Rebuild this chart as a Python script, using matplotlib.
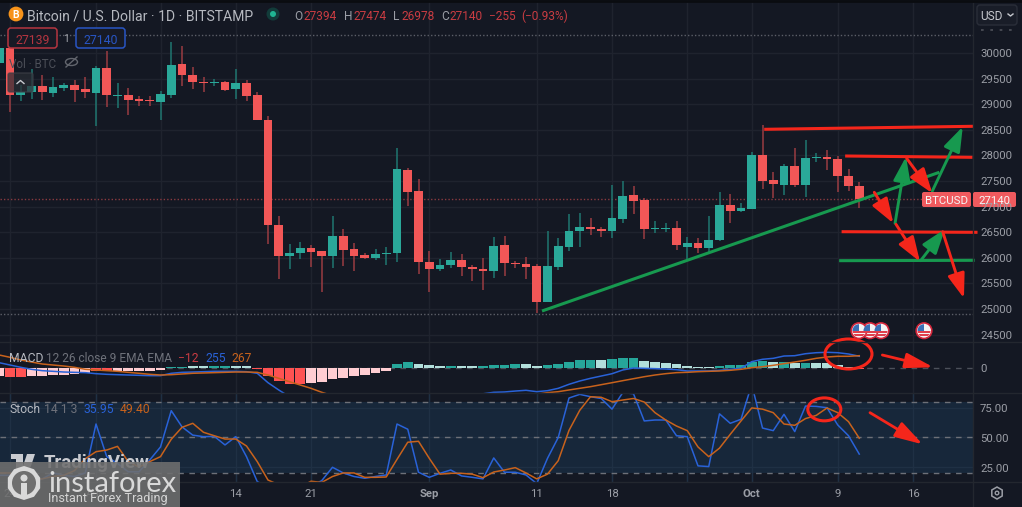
import numpy as np
import matplotlib
matplotlib.use("Agg")
import matplotlib.pyplot as plt
from matplotlib.patches import Circle, Ellipse, FancyBboxPatch, Rectangle, RegularPolygon, Polygon

# ---- data ---- (day index 0 = 24 Jul)
days = list(range(-1, 80))
opens = [29800,30098,29180,29232,29355,29225,29316,29369,29291,29225,29713,29166,29186,29096,29076,29049,29186,29791,29576,29439,
         29408,29428,29291,29414,29174,28697,26635,26041,26088,26192,26127,26035,26426,26166,26055,25990,26074,26094,27715,27305,
         25924,25787,25865,25963,25815,25775,25736,26256,25905,25885,25834,25137,25826,26211,26524,26602,26569,26524,26752,27227,
         27135,26557,26563,26576,26211,26295,26192,26348,27026,26908,26959,28002,27514,27428,27787,27416,27949,27975,27930,27592,27394]
highs = [30090,30098,29375,29687,29576,29531,29408,29467,29531,29752,30045,29408,29310,29160,29160,29258,30221,30137,29721,29537,
         29486,29453,29682,29473,29232,28764,26817,26270,26303,26250,26127,26817,26568,26283,26100,26166,26217,28139,27760,27539,
         26139,25971,26108,26074,25860,25990,26412,26432,25938,26016,25873,26529,26393,26856,26881,26772,26608,27422,27494,27397,
         27174,26725,26674,26725,26412,26381,26817,27291,27240,27076,28061,28594,27670,27832,28139,28301,28041,28106,27994,27734,27474]
lows = [29800,28848,29068,29102,29082,29135,29264,29049,29127,28574,28939,28932,28789,28965,28965,28691,29115,29355,29297,29232,
        29355,29264,29096,29068,28691,26270,25592,25787,25971,25826,25338,25795,25840,25748,25977,25957,25854,25912,27012,25678,
        25332,25748,25801,25645,25547,25371,25600,25645,25795,25580,24916,25137,25762,26139,26217,26445,26412,26381,26686,26856,
        26373,26479,26510,26153,25971,26088,26119,26328,26686,26900,26959,27338,27162,27227,27377,27182,27877,27715,27291,27305,26978]
closes = [30090,29180,29238,29355,29232,29330,29369,29277,29238,29713,29174,29186,29082,29062,29062,29193,29771,29564,29428,29408,
          29434,29283,29414,29166,28697,26635,26041,26088,26192,26119,26035,26432,26153,26035,25990,26074,26100,27729,27291,25924,
          25787,25865,25963,25815,25775,25736,26237,25893,25885,25826,25137,25840,26225,26529,26602,26563,26524,26772,27213,27115,
          26557,26582,26582,26244,26295,26198,26348,27026,26908,26967,28002,27506,27436,27793,27416,27949,27975,27930,27592,27397,27140]

n = float("nan")
macd_line = [115,65,15,-28,-58,-72,-87,-94,-101,-123,-137,-145,-152,-159,-166,-166,-115,-94,-87,-80,
             -72,-72,-72,-80,-115,-319,-477,-623,n,n,n,n,n,n,n,n,n,n,n,n,
             n,n,n,n,n,-560,-527,-520,-500,-484,-514,-492,-441,-354,-282,-224,-174,-124,-43,0,
             -7,-14,-22,-36,-65,-65,-65,-50,-28,-7,137,189,210,260,267,310,332,341,332,304,255]
macd_signal = [282,232,174,130,87,65,43,15,-28,-43,-58,-72,-94,-115,-137,-152,-145,-130,-115,-108,
               -101,-94,-87,-87,-94,-152,-224,-297,-369,-441,-527,-600,n,n,n,n,n,n,n,n,
               n,n,n,n,n,n,n,n,n,n,-570,-535,-514,-477,-441,-405,-362,-319,-275,-232,
               -189,-152,-123,-101,-94,-80,-72,-65,-50,-28,7,28,58,94,130,167,210,239,254,254,267]
macd_hist = [-166,-188,-188,-174,-174,-159,-145,-130,-116,-72,-72,-65,-65,-65,-58,-43,29,29,36,36,
             36,36,36,36,-29,-174,-289,-347,-347,-333,-311,-246,-210,-174,-145,-101,-58,80,137,94,
             58,51,51,43,43,43,72,72,87,87,43,58,94,137,166,181,181,188,210,210,
             159,137,116,87,36,14,14,43,58,72,130,145,123,123,108,116,116,101,65,22,-12]
hist_kind = list("PRRPPPPPPRRPPPPPGGLLGGLLR"
                 "RRRRPPPPPPPPGGL"
                 "LLGLLGGGGLLGGGGGLGGG"
                 "LLLLLLLGGGGGLGLGLLLLR")
stoch_k = [18,18,15,12,15,20,18,17,20,61.4,33.8,28,21,21,31,42,72.7,59,52,50.7,
           51,43.7,50.7,33.8,12.7,8,6,8,10,9,13.5,24.8,20,17,15.5,17,18.3,61.4,57,20.6,
           16.3,19.7,22.5,17.5,16.3,15,32.7,20.6,20.6,18.3,11,32.4,50,83.4,86.5,84.5,83,74,88,87,
           64,64.8,64.8,51.5,50.7,26,25.4,70,62,65.4,95,58,55.8,69.6,55,76.6,76.3,75.2,60.6,51.5,35.95]
stoch_d = [20,20,16,14,15,17,18,22,32,38,39.4,42.5,29.6,25,29.6,33.8,48.5,58.6,62,54.4,
           51.5,48.7,48.7,42.8,29.6,14,10,8,8,13,12,17,20,20,16.3,16.3,16.6,31.5,46,46.8,
           32.4,19,19.7,19.7,19,16,20.8,22.5,24.5,20,15,19,30.4,56,73,84.5,84,80.3,81.7,83,
           80,71,64.8,59.7,55.8,42,33.8,41,52.7,64,75,74,71,61.4,60.3,66,68.7,75,71,63.4,49.4]

price_ticks = [30000,29500,29000,28500,28000,27500,27000,26500,26000,25500,25000,24500]
date_ticks = [0,8,14,21,28,39,49,56,63,69,77,84]
date_labels = [("24",0,False),("Aug",8,False),("14",21,False),("21",28,False),("Sep",39,True),
               ("11",49,False),("18",56,False),("Oct",69,True),("9",77,False),("16",84,False)]
stoch_ticks = [75,50,25]

high_level, last_level, low_level = 30350, 27140, 24900

# hand-drawn trend line, levels and arrows: (day, value)
trend = [(49.49,24961),(86.45,27670)]
red_levels = [[(70.3,28510),(89.46,28568)],[(77.83,27988),(89.39,27963)],[(77.5,26510),(89.86,26498)]]
green_levels = [[(77.27,25944),(89.6,25951)]]
green_arrows = [[(82.33,26674),(83.35,27975)],[(85.8,27305),(88.63,28561)],[(84.71,25944),(86.98,26563)]]
red_arrows = [[(83.41,27943),(85.8,27260)],[(80.4,27279),(82.17,26674)],[(82.42,26654),(84.65,25924)],[(86.76,26510),(88.74,25209)]]
macd_arrow = [(81.15,282),(85.9,15)]
stoch_arrow = [(80,71),(84.9,44.2)]

# ---- style ----
W, H = 1022, 507
BG, GRID, TXT = "#141823", "#1f232e", "#9b9ea6"
UP, DOWN = "#2aa899", "#f25757"
UPW, DOWNW = "#1f7670", "#9a3c42"
RED, GREEN = "#f5261b", "#17994f"
BLUE, ORANGE = "#2962d8", "#c8621c"
plt.rcParams["font.family"] = ["Roboto", "DejaVu Sans"]

fig = plt.figure(figsize=(W/100, H/100), dpi=100, facecolor=BG)
RIGHT = 973
XLIM = ((0-10)/10.75, (RIGHT-10)/10.75)

def pane(top, bottom, ylim):
    ax = fig.add_axes([0, 1-bottom/H, RIGHT/W, (bottom-top)/H], facecolor=BG)
    ax.set_xlim(*XLIM)
    ax.set_ylim(*ylim)
    ax.set_xticks([]); ax.set_yticks([])
    for s in ax.spines.values():
        s.set_visible(False)
    for d in date_ticks:
        ax.axvline(d, color=GRID, lw=1, zorder=0)
    return ax

def arrow(ax, pts, color, hl=15, hw=5.2, lw=2.1):
    ax.annotate("", xy=pts[1], xytext=pts[0], annotation_clip=False, zorder=8,
                arrowprops=dict(arrowstyle=f"-|>,head_length={hl},head_width={hw}", mutation_scale=1,
                                color=color, lw=lw, shrinkA=0, shrinkB=0))

# price pane
ax = pane(0, 342, (31035-19.53*342, 31035))
for p in price_ticks:
    ax.axhline(p, color=GRID, lw=1, zorder=0)
ax.axhline(high_level, color="#5c5f68", lw=1, ls=(0,(1,1.5)), zorder=1)
ax.axhline(low_level, color="#5c5f68", lw=1, ls=(0,(1,1.5)), zorder=1)
ax.axhline(last_level, color="#8a3a40", lw=1, ls=(0,(1,1.5)), zorder=1)
for d,o,h,l,c in zip(days,opens,highs,lows,closes):
    up = c >= o
    ax.vlines(d, l, h, color=UPW if up else DOWNW, lw=1.1, zorder=2)
    b, t = min(o,c), max(o,c)
    ax.bar(d, max(t-b,22), bottom=b, width=0.8, color=UP if up else DOWN, zorder=3, lw=0)
ax.plot(*zip(*trend), color=GREEN, lw=2.2, zorder=7, solid_capstyle="butt", clip_on=False)
for seg in red_levels:
    ax.plot(*zip(*seg), color=RED, lw=2.2, zorder=7, clip_on=False)
for seg in green_levels:
    ax.plot(*zip(*seg), color=GREEN, lw=2.2, zorder=7, clip_on=False)
for a in green_arrows:
    arrow(ax, a, GREEN)
for a in red_arrows:
    arrow(ax, a, RED)

# MACD pane
mx = pane(342, 392.7, ((368-392.7)*21.7, (368-342)*21.7))
mx.axhline(0, color="#4c505a", lw=1, ls=(0,(4,4)), zorder=1)
kind_col = {"R":"#ff5252","P":"#ffcdd2","G":"#26a69a","L":"#b2dfdb"}
mx.bar(days, macd_hist, width=0.92, color=[kind_col[k] for k in hist_kind], lw=0, zorder=2)
mx.plot(days, macd_line, color=BLUE, lw=1.1, zorder=3)
mx.plot(days, macd_signal, color=ORANGE, lw=1.1, zorder=3)
arrow(mx, macd_arrow, RED, hl=17, hw=4.6, lw=2)
mx.add_patch(Ellipse((82.0-1.9+(-2.9)+0.8, 304), 4.37, 651, fill=False, ec=RED, lw=2.2, clip_on=False, zorder=9))

# Stochastic pane
sx = pane(392.7, 481.7, (12.6, 87.9))
sx.axhspan(20, 80, color="#17273a", lw=0, zorder=0)
for d in date_ticks:
    sx.axvline(d, color="#1f3044", lw=1, zorder=0.5)
for t in stoch_ticks:
    sx.axhline(t, color="#1f3044", lw=1, zorder=0.5)
for lev in (80,50,20):
    sx.axhline(lev, color="#6d7078", lw=1, ls=(0,(4,4)), zorder=1)
sx.plot(days, stoch_k, color=BLUE, lw=1.1, zorder=3)
sx.plot(days, stoch_d, color=ORANGE, lw=1.1, zorder=3)
arrow(sx, stoch_arrow, RED, hl=17, hw=5, lw=2)
sx.add_patch(Ellipse((75.75, 73.8), 3.07, 19.4, fill=False, ec=RED, lw=2.2, clip_on=False, zorder=9))

# overlay in pixels
ov = fig.add_axes([0,0,1,1], facecolor="none", zorder=10)
ov.set_xlim(0,W); ov.set_ylim(H,0); ov.axis("off")
def T(x,y,s,c=TXT,fs=8.2,ha="left",**k):
    return ov.text(x,y,s,color=c,fontsize=fs,ha=ha,va="center_baseline",**k)
def box(x0,y0,x1,y1,fc="none",ec="none",lw=1,r=2,alpha=None,z=2):
    ov.add_patch(FancyBboxPatch((x0+r,y0+r),x1-x0-2*r,y1-y0-2*r,boxstyle=f"round,pad={r}",fc=fc,ec=ec,lw=lw,alpha=alpha,zorder=z))

for y in (342,392.7,481.7):
    ov.plot([0,W],[y,y],color="#23272f",lw=1,zorder=1)
ov.plot([RIGHT,RIGHT],[0,H],color="#23272f",lw=1,zorder=1)
ov.plot([0,W],[0.5,0.5],color="#0a0c10",lw=2,zorder=1)

# price axis
for p in price_ticks:
    T(980, 53+(30000-p)*0.0512, str(p))
T(980,368,"0")
T(980,408,"75.00"); T(980,438,"50.00"); T(980,467.5,"25.00")
box(922,192,971,207,fc="#ef5a5e"); T(946.5,199.5,"BTCUSD","#f6f6f6",ha="center")
box(973,192,1016,207,fc="#ef5a5e"); T(994.5,199.5,"27140","#f6f6f6",ha="center")
box(977,5,1017,25,fc="#191d28",ec="#2a2e39",r=3); T(980,15.5,"USD","#c6c8ce",fs=8.6)
ov.plot([1008,1010.5,1013],[14,16,14],color="#c6c8ce",lw=1)
ov.plot([981,1012],[30,30],color="#4e515a",lw=1.2,ls=(0,(1.6,4)))

# dates
for s,d,bold in date_labels:
    T(10+10.75*d,493,s,fs=8.2,ha="center",fontweight="bold" if bold else "normal")
ov.add_patch(RegularPolygon((997,493),6,radius=6,fill=False,ec="#9b9ea6",lw=1.1))
ov.add_patch(Circle((997,493),1.8,fill=False,ec="#9b9ea6",lw=1))

# header
ov.add_patch(Circle((16,14),7.4,fc="#f7931a",lw=0))
T(16,14.3,"B","#fff",fs=7.5,ha="center",fontweight="bold")
T(27,15,"Bitcoin / U.S. Dollar · 1D · BITSTAMP","#b6b9c0",fs=10.1)
ov.add_patch(Circle((273,14),6.5,fc="#123c3a",lw=0)); ov.add_patch(Circle((273,14),3,fc="#1fb592",lw=0))
HR = "#c93c42"
for x,s,c in [(294,"O",TXT),(304,"27394",HR),(344,"H",TXT),(353,"27474",HR),(393,"L",TXT),(401,"26978",HR),
              (441,"C",TXT),(449,"27140",HR),(489,"−255",HR),(521,"(−0.93%)",HR)]:
    T(x,15,s,c,fs=8.6)
box(8,28,57,48,fc="#171a25",ec="#b53540",lw=1.1,r=3); T(32.5,38.5,"27139","#b53540",fs=8.8,ha="center")
T(66,38.5,"1","#a6a8af",fs=7.5,ha="center")
box(76,28,125,48,fc="#171a25",ec="#2855c4",lw=1.1,r=3); T(100.5,38.5,"27140","#2855c4",fs=8.8,ha="center")
T(9,62.5,"Vol · BTC","#4c4f58",fs=8.4)
ov.add_patch(Ellipse((71.5,62),12,7,fill=False,ec="#62656d",lw=1))
ov.plot([66,77],[67,57],color="#62656d",lw=1)
box(8,73,33,92,fc="#2a2d35",ec="#3e4048",alpha=0.72,r=2,z=3)
ov.plot([17,20.5,24],[83.5,80.5,83.5],color="#c6c8ce",lw=1,zorder=4)

# pane legends
T(9,357,"MACD","#b6b9c0",fs=8.7)
T(46,357,"12 26 close 9 EMA EMA","#6e717a",fs=8.6)
T(178,357,"−12","#c93c42",fs=8.7); T(205,357,"255",BLUE,fs=8.7); T(231,357,"267",ORANGE,fs=8.7)
T(9,408,"Stoch","#b6b9c0",fs=8.7)
T(44,408,"14 1 3","#6e717a",fs=8.7)
T(84,408,"35.95",BLUE,fs=8.7); T(120,408,"49.40",ORANGE,fs=8.7)

# event flags
for x in (924,881,870,859):
    ring = Circle((x,330.7),7.8,fc="#f4f4f4",ec="#d3253a",lw=1.2,zorder=5); ov.add_patch(ring)
    inner = Circle((x,330.7),6.5,transform=ov.transData)
    for k,yy in enumerate((331,334.2)):
        r = Rectangle((x-8,yy),16,1.6,fc="#e0404c",lw=0,zorder=6); ov.add_patch(r); r.set_clip_path(inner)
    r = Rectangle((x-8,323),8,8,fc="#3a6fb5",lw=0,zorder=6); ov.add_patch(r); r.set_clip_path(inner)

# watermarks
T(44,461,"TradingView","#c9cbd0",fs=13.4,fontweight="bold",zorder=3)
ov.add_patch(Polygon([(11,454),(23,454),(23,469),(16,469),(16,459),(11,459)],fc="#c9cbd0",lw=0,zorder=3))
ov.add_patch(Polygon([(27,454),(35,454),(30,469),(22,469)],fc="#c9cbd0",lw=0,zorder=3))
ov.add_patch(Rectangle((0,462),180,45,fc="#6f6f6f",alpha=0.88,lw=0,zorder=7))
ov.add_patch(RegularPolygon((24,483),10,radius=17,fc="#d9d9d9",lw=0,zorder=8))
ov.add_patch(Circle((24,483),12,fc="#6f6f6f",lw=0,zorder=8))
ov.add_patch(Circle((24,478),3.5,fc="#d9d9d9",lw=0,zorder=9))
ov.add_patch(Rectangle((21,483),6,13,fc="#d9d9d9",lw=0,zorder=9))
T(48,481,"instaforex","#d9d9d9",fs=21,fontfamily="Lato",zorder=9)
T(48,497,"Instant Forex Trading","#d4d4d4",fs=9.1,zorder=9)

fig.savefig("out.png", dpi=100, facecolor=BG)
